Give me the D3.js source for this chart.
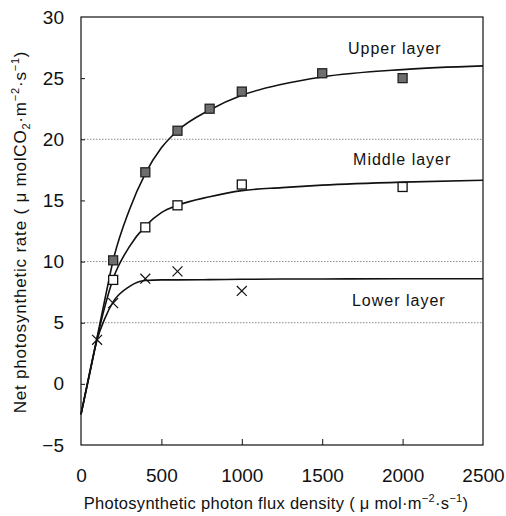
<!DOCTYPE html>
<html>
<head>
<meta charset="utf-8">
<script src="https://cdn.jsdelivr.net/npm/d3@7"></script>
<style>
  body { margin: 0; background: #fff; }
  svg { display: block; font-family: "Liberation Sans", Arial, sans-serif; }
</style>
</head>
<body>
<svg></svg>
<script>
// measured points
const upperPPFD = [200, 400, 600, 800, 1000, 1500, 2000];
const upperRate = [10.1, 17.3, 20.7, 22.5, 23.9, 25.4, 25.0];
const middlePPFD = [200, 400, 600, 1000, 2000];
const middleRate = [8.5, 12.8, 14.6, 16.3, 16.1];
const lowerPPFD = [100, 200, 400, 600, 1000];
const lowerRate = [3.6, 6.6, 8.6, 9.2, 7.6];

// fitted curves
const fitPPFD = [0, 50, 100, 150, 200, 300, 400, 500, 600, 800, 1000, 1250, 1500, 2000, 2500];
const upperFit = [-2.5, 0.7, 3.8, 7.0, 10.1, 14.2, 17.2, 19.3, 20.7, 22.4, 23.6, 24.5, 25.1, 25.7, 26.0];
const middleFit = [-2.5, 0.6, 3.7, 6.4, 8.6, 11.2, 12.9, 14.0, 14.6, 15.3, 15.8, 16.05, 16.25, 16.5, 16.65];
const lowerFit = [-2.5, 0.6, 3.6, 5.4, 6.7, 7.95, 8.45, 8.5, 8.5, 8.52, 8.55, 8.57, 8.58, 8.6, 8.6];

const layerNames = ["Upper layer", "Middle layer", "Lower layer"];
const xTicks = [0, 500, 1000, 1500, 2000, 2500];
const yTicks = [-5, 0, 5, 10, 15, 20, 25, 30];
const gridValues = [5, 10, 20];

// canvas
const W = 506, H = 516;
const margin = { top: 17, right: 23, bottom: 71, left: 81 };
const width = W - margin.left - margin.right;
const height = H - margin.top - margin.bottom;

const svg = d3.select("svg").attr("width", W).attr("height", H);
const g = svg.append("g").attr("transform", `translate(${margin.left},${margin.top})`);

const x = d3.scaleLinear().domain([0, 2500]).range([0, width]);
const y = d3.scaleLinear().domain([-5, 30]).range([height, 0]);

// dotted grid lines
g.selectAll(".grid")
  .data(gridValues)
  .enter()
  .append("line")
  .attr("x1", 0).attr("x2", width)
  .attr("y1", d => y(d)).attr("y2", d => y(d))
  .attr("stroke", "#8c8c8c")
  .attr("stroke-width", 1)
  .attr("stroke-dasharray", "1.5,1.5");

// axes (ticks inside)
const xAxis = g.append("g")
  .attr("transform", `translate(0,${height})`)
  .call(d3.axisBottom(x).tickValues(xTicks).tickFormat(d3.format("d"))
    .tickSizeInner(-6).tickSizeOuter(0).tickPadding(24));
const yAxis = g.append("g")
  .call(d3.axisLeft(y).tickValues(yTicks).tickSizeInner(-4).tickSizeOuter(0).tickPadding(17));

[xAxis, yAxis].forEach(ax => {
  ax.select(".domain").remove();
  ax.selectAll("text").attr("font-size", 19).attr("fill", "#111")
    .attr("font-family", "'Liberation Sans', Arial, sans-serif");
  ax.selectAll("line").attr("stroke", "#111");
});
xAxis.selectAll(".tick").filter(d => d === 0 || d === 2500).select("line").remove();
yAxis.selectAll(".tick").filter(d => d === -5 || d === 30).select("line").remove();

// frame
g.append("rect")
  .attr("width", width).attr("height", height)
  .attr("fill", "none").attr("stroke", "#111").attr("stroke-width", 1.2);

// fitted curves
const line = d3.line()
  .x((d, i) => x(fitPPFD[i]))
  .y(d => y(d))
  .curve(d3.curveMonotoneX);

g.selectAll(".fit")
  .data([upperFit, middleFit, lowerFit])
  .enter()
  .append("path")
  .attr("d", line)
  .attr("fill", "none")
  .attr("stroke", "#111")
  .attr("stroke-width", 1.6);

// markers
g.selectAll(".upper")
  .data(upperPPFD)
  .enter()
  .append("rect")
  .attr("x", d => x(d) - 4.5)
  .attr("y", (d, i) => y(upperRate[i]) - 4.5)
  .attr("width", 9).attr("height", 9)
  .attr("fill", "#6e6e6e")
  .attr("stroke", "#222")
  .attr("stroke-width", 1.3);

g.selectAll(".middle")
  .data(middlePPFD)
  .enter()
  .append("rect")
  .attr("x", d => x(d) - 4.5)
  .attr("y", (d, i) => y(middleRate[i]) - 4.5)
  .attr("width", 9).attr("height", 9)
  .attr("fill", "#fff")
  .attr("stroke", "#111")
  .attr("stroke-width", 1.3);

g.selectAll(".lower")
  .data(lowerPPFD)
  .enter()
  .append("path")
  .attr("transform", (d, i) => `translate(${x(d)},${y(lowerRate[i])})`)
  .attr("d", d3.symbol(d3.symbolX, 66))
  .attr("fill", "none")
  .attr("stroke", "#111")
  .attr("stroke-width", 1.2);

// layer labels
const labelAt = [[1660, 27.0], [1692, 17.9], [1685, 6.4]];
g.selectAll(".layer")
  .data(layerNames)
  .enter()
  .append("text")
  .attr("x", (d, i) => x(labelAt[i][0]))
  .attr("y", (d, i) => y(labelAt[i][1]))
  .attr("font-size", 16)
  .attr("letter-spacing", 1)
  .attr("fill", "#111")
  .text(d => d);

// axis titles, super/subscripts shifted in px
function addPart(t, s, small, shift) {
  const ts = t.append("tspan").text(s);
  if (small) ts.attr("font-size", 11);
  if (shift) ts.attr("dy", shift);
  return ts;
}

const xTitle = svg.append("text")
  .attr("x", 276).attr("y", 509)
  .attr("text-anchor", "middle")
  .attr("font-size", 16.5)
  .attr("letter-spacing", 0.3)
  .attr("fill", "#111");
addPart(xTitle, "Photosynthetic photon flux density ( μ mol·m");
addPart(xTitle, "−2", true, -7);
addPart(xTitle, "·s", false, 7);
addPart(xTitle, "−1", true, -7);
addPart(xTitle, ")", false, 7);

const yTitle = svg.append("text")
  .attr("transform", "translate(26,232) rotate(-90)")
  .attr("text-anchor", "middle")
  .attr("font-size", 17)
  .attr("letter-spacing", 0.8)
  .attr("fill", "#111");
addPart(yTitle, "Net photosynthetic rate ( μ molCO");
addPart(yTitle, "2", true, 4);
addPart(yTitle, "·m", false, -4);
addPart(yTitle, "−2", true, -7);
addPart(yTitle, "·s", false, 7);
addPart(yTitle, "−1", true, -7);
addPart(yTitle, ")", false, 7);
</script>
</body>
</html>
